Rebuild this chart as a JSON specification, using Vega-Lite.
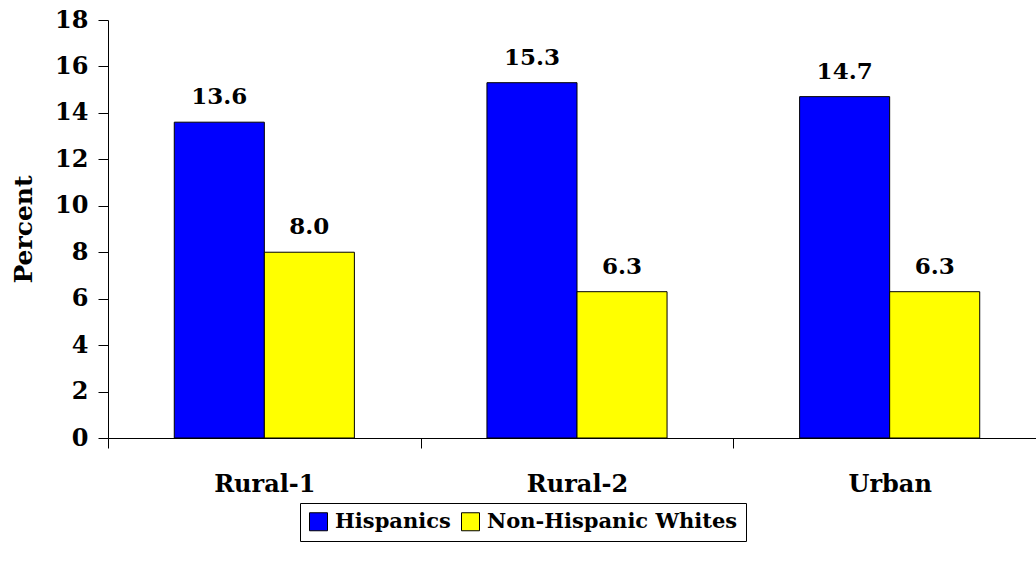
{
  "$schema": "https://vega.github.io/schema/vega-lite/v6.json",
  "autosize": {"type": "none"},
  "padding": {"left": 108, "top": 20, "right": -10, "bottom": 137},
  "width": 938,
  "height": 418,
  "config": {
    "view": {"stroke": null},
    "font": "DejaVu Serif",
    "text": {"font": "DejaVu Serif"},
    "legend": {"labelFont": "DejaVu Serif", "titleFont": "DejaVu Serif"},
    "axis": {"labelFont": "DejaVu Serif", "titleFont": "DejaVu Serif", "labelFontWeight": "bold", "titleFontWeight": "bold", "labelColor": "black", "titleColor": "black", "domainColor": "black", "tickColor": "black", "grid": false}
  },
  "data": {
    "values": [
      {"area": "Rural-1", "group": "Hispanics", "pct": 13.6},
      {"area": "Rural-1", "group": "Non-Hispanic Whites", "pct": 8.0},
      {"area": "Rural-2", "group": "Hispanics", "pct": 15.3},
      {"area": "Rural-2", "group": "Non-Hispanic Whites", "pct": 6.3},
      {"area": "Urban", "group": "Hispanics", "pct": 14.7},
      {"area": "Urban", "group": "Non-Hispanic Whites", "pct": 6.3}
    ]
  },
  "encoding": {
    "x": {
      "field": "area", "type": "nominal", "sort": null,
      "scale": {"paddingInner": 0, "paddingOuter": 0},
      "axis": {"title": null, "labelAngle": 0, "labelFontSize": 24, "tickBand": "extent", "tickSize": 10, "labelPadding": 24, "domainWidth": 1}
    },
    "xOffset": {"field": "group", "type": "nominal", "scale": {"paddingInner": 0, "paddingOuter": 0.736}},
    "y": {
      "field": "pct", "type": "quantitative",
      "scale": {"domain": [0, 18], "nice": false},
      "axis": {"title": "Percent", "titleFontSize": 25, "labelFontSize": 24, "values": [0, 2, 4, 6, 8, 10, 12, 14, 16, 18], "tickSize": 10, "labelPadding": 10, "titlePadding": 18}
    }
  },
  "layer": [
    {
      "mark": {"type": "bar", "stroke": "black", "strokeWidth": 1},
      "encoding": {
        "color": {
          "field": "group", "type": "nominal",
          "scale": {"domain": ["Hispanics", "Non-Hispanic Whites"], "range": ["#0000FF", "#FFFF00"]},
          "legend": {
            "title": null, "orient": "none", "direction": "horizontal",
            "legendX": 192, "legendY": 483,
            "labelFontWeight": "bold", "labelFontSize": 21, "labelColor": "black", "labelLimit": 500,
            "symbolType": "square", "symbolSize": 324, "symbolStrokeColor": "black", "symbolStrokeWidth": 1,
            "labelOffset": 6, "columnPadding": 8, "padding": 8,
            "strokeColor": "black"
          }
        }
      }
    },
    {
      "mark": {"type": "text", "baseline": "alphabetic", "dy": -18, "fontSize": 23, "fontWeight": "bold", "color": "black"},
      "encoding": {"text": {"field": "pct", "type": "quantitative", "format": ".1f"}}
    }
  ]
}
